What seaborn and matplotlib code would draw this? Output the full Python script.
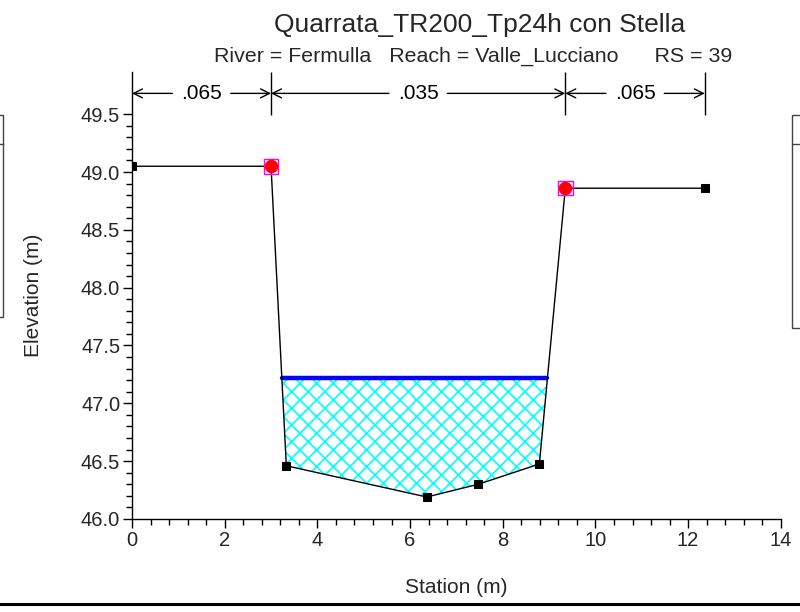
import numpy as np
import matplotlib
matplotlib.use("Agg")
import matplotlib.pyplot as plt
import seaborn as sns
from matplotlib.patches import Rectangle
from matplotlib.lines import Line2D
from matplotlib.ticker import MultipleLocator, FixedLocator, FormatStrFormatter

# ground profile
station = [0.0, 3.0, 3.33, 6.36, 7.47, 8.79, 9.35, 12.36]
elevation = [49.05, 49.05, 46.46, 46.19, 46.30, 46.475, 48.86, 48.86]
bank_idx = [1, 6]
ws_elev = 47.22

# manning n regions
n_bounds = [0.0, 3.0, 9.35, 12.36]
n_values = [".065", ".035", ".065"]

title = "Quarrata_TR200_Tp24h con Stella"
subtitle = "River = Fermulla   Reach = Valle_Lucciano      RS = 39"

sns.set_style("white")
plt.rcParams["font.family"] = ["Liberation Sans", "DejaVu Sans"]
plt.rcParams["hatch.linewidth"] = 1.2
plt.rcParams["hatch.color"] = "#00ffff"

fig = plt.figure(figsize=(8, 6.12), dpi=100)
ax = fig.add_axes([0.165, 0.152, 0.811, 0.730])

x = np.array(station)
z = np.array(elevation)

# water edges where the banks cross the WS
left = np.interp(ws_elev, z[1:3][::-1], x[1:3][::-1])
right = np.interp(ws_elev, z[5:7], x[5:7])
xs = np.concatenate([[left], x[2:6], [right]])
zs = np.concatenate([[ws_elev], z[2:6], [ws_elev]])
ax.fill_between(xs, zs, ws_elev, facecolor="white", edgecolor="#00ffff",
                hatch="xx", linewidth=0, zorder=1)
ax.plot([left, right], [ws_elev, ws_elev], color="#0000ff", lw=3.2,
        solid_capstyle="round", zorder=3)

sns.lineplot(x=station, y=elevation, ax=ax, color="black", lw=1,
             marker="s", markersize=6, markeredgecolor="black",
             estimator=None, sort=False, zorder=4)
bx = [station[i] for i in bank_idx]
by = [elevation[i] for i in bank_idx]
ax.scatter(bx, by, marker="s", s=110, facecolor="none", edgecolor="magenta",
           lw=1, zorder=5)
ax.scatter(bx, by, marker="o", s=95, color="red", lw=0, zorder=6)

ax.set_xlim(0, 14)
ax.set_ylim(46.0, 49.863)
ax.set_xticks(np.arange(0, 15, 2))
ax.set_yticks([46.0, 46.5, 47.0, 47.5, 48.0, 48.5, 49.0, 49.5])
ax.yaxis.set_major_formatter(FormatStrFormatter("%.1f"))
ax.xaxis.set_minor_locator(MultipleLocator(0.4))
ax.yaxis.set_minor_locator(FixedLocator(np.arange(46.0, 49.51, 0.1)))
ax.tick_params(axis="x", which="major", direction="out", length=6.5, width=1,
               labelsize=14.5, pad=2)
ax.tick_params(axis="x", which="minor", direction="out", length=4, width=1)
ax.tick_params(axis="y", which="major", direction="out", length=6.5, width=1,
               labelsize=14.5, pad=2)
ax.tick_params(axis="y", which="minor", direction="out", length=4, width=1)
ax.tick_params(bottom=True, left=True, which="both", color="black")
for s in ["top", "right"]:
    ax.spines[s].set_visible(False)
for s in ["left", "bottom"]:
    ax.spines[s].set_color("black")
    ax.spines[s].set_linewidth(1)
ax.set_xlabel("Station (m)", fontsize=15, labelpad=20)
ax.set_ylabel("Elevation (m)", fontsize=15, labelpad=27)

# n value bars
ytop = 49.863
ybar = 49.68
ax.vlines(n_bounds[1:], 49.49, ytop, color="black", lw=1, clip_on=False)
for i, lab in enumerate(n_values):
    a, b = n_bounds[i], n_bounds[i + 1]
    mid = (a + b) / 2
    for j, end in enumerate((a, b)):
        ax.annotate(lab, xy=(end, ybar), xytext=(mid, ybar),
                    ha="center", va="center", fontsize=15,
                    color="black" if j == 0 else "none",
                    arrowprops=dict(arrowstyle="->", lw=1, shrinkA=4, shrinkB=0,
                                    mutation_scale=16, color="black"),
                    annotation_clip=False)

fig.text(0.599, 0.948, title, ha="center", va="baseline", fontsize=19)
fig.text(0.592, 0.899, subtitle, ha="center", va="baseline", fontsize=15.4)

# clipped legend boxes at the sides
for x0, w, y0, h in [(-0.05, 0.0538, 0.482, 0.330), (0.9904, 0.05, 0.464, 0.348)]:
    fig.add_artist(Rectangle((x0, y0), w, h, transform=fig.transFigure,
                             fill=False, ec="#444444", lw=1))
    fig.add_artist(Line2D([x0, x0 + w], [0.765, 0.765], transform=fig.transFigure,
                          color="#444444", lw=1))
fig.add_artist(Line2D([0, 1], [0.0123, 0.0123], transform=fig.transFigure,
                      color="black", lw=2.2))

fig.savefig("out.png", dpi=100)
